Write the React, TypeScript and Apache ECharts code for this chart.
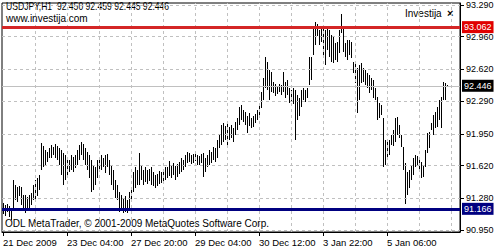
import React, { useEffect, useRef } from 'react';
import * as echarts from 'echarts';

const symbolTitle = 'USDJPY,H1  92.450 92.459 92.445 92.446';
const siteLabel = 'www.investija.com';
const indicatorLabel = 'Investija';
const copyrightLabel = 'ODL MetaTrader, \u00a9 2001-2009 MetaQuotes Software Corp.';

const xTickLabels = ['21 Dec 2009', '23 Dec 04:00', '27 Dec 20:00', '29 Dec 04:00', '30 Dec 12:00', '3 Jan 22:00', '5 Jan 06:00'];
const barsPerTimeLabel = 32;
const barsPerGridLine = 16;
const emptyBarsRight = 6;

const yTickLabels = ['90.950', '91.280', '91.620', '91.950', '92.290', '92.620', '92.960', '93.290'];
const yMin = 90.929;
const yMax = 93.311;

const resistanceLevel = 93.062;
const supportLevel = 91.166;
const bidPrice = 92.446;

const highs = [
  91.23, 91.21, 91.22, 91.20, 91.18, 91.47, 91.42, 91.40, 91.41, 91.40,
  91.31, 91.31, 91.29, 91.31, 91.33, 91.42, 91.47, 91.49, 91.52, 91.85,
  91.82, 91.78, 91.76, 91.80, 91.83, 91.81, 91.84, 91.82, 91.80, 91.78,
  91.75, 91.73, 91.70, 91.68, 91.73, 91.71, 91.73, 91.78, 91.83, 91.87,
  91.84, 91.80, 91.76, 91.73, 91.68, 91.63, 91.60, 91.68, 91.71, 91.73,
  91.70, 91.73, 91.74, 91.68, 91.63, 91.57, 91.47, 91.42, 91.35, 91.31,
  91.28, 91.30, 91.26, 91.35, 91.39, 91.55, 91.60, 91.57, 91.75, 91.63,
  91.57, 91.60, 91.57, 91.58, 91.60, 91.55, 91.52, 91.53, 91.56, 91.55,
  91.58, 91.60, 91.61, 91.67, 91.63, 91.65, 91.62, 91.64, 91.66, 91.70,
  91.68, 91.73, 91.76, 91.75, 91.73, 91.74, 91.76, 91.73, 91.72, 91.74,
  91.75, 91.70, 91.73, 91.78, 91.76, 91.81, 91.80, 91.89, 91.94, 92.04,
  92.06, 92.03, 92.05, 92.02, 92.04, 92.01, 92.07, 92.12, 92.23, 92.25,
  92.20, 92.18, 92.14, 92.17, 92.11, 92.14, 92.16, 92.20, 92.26, 92.39,
  92.53, 92.75, 92.70, 92.61, 92.59, 92.49, 92.47, 92.45, 92.47, 92.46,
  92.59, 92.49, 92.51, 92.43, 92.41, 92.43, 92.41, 92.35, 92.32, 92.41,
  92.43, 92.41, 92.43, 92.75, 92.75, 93.05, 93.11, 93.09, 93.03, 93.05,
  93.08, 93.03, 93.05, 93.03, 92.98, 92.96, 92.90, 92.91, 93.03, 93.20,
  93.05, 92.90, 92.93, 92.93, 92.91, 92.70, 92.69, 92.64, 92.67, 92.69,
  92.64, 92.61, 92.58, 92.56, 92.53, 92.51, 92.43, 92.33, 92.27, 92.25,
  92.11, 91.89, 91.87, 91.89, 91.94, 91.99, 92.11, 92.13, 92.04, 91.94,
  91.81, 91.65, 91.55, 91.57, 91.63, 91.70, 91.73, 91.72, 91.68, 91.66,
  91.63, 91.78, 91.96, 91.97, 92.06, 92.15, 92.18, 92.23, 92.30, 92.33,
  92.49, 92.48, 92.459,
];

const lows = [
  91.12, 91.10, 91.14, 91.08, 91.05, 91.18, 91.26, 91.24, 91.30, 91.21,
  91.16, 91.13, 91.16, 91.18, 91.21, 91.26, 91.26, 91.30, 91.37, 91.57,
  91.61, 91.63, 91.66, 91.70, 91.70, 91.73, 91.70, 91.68, 91.63, 91.52,
  91.42, 91.47, 91.52, 91.55, 91.57, 91.55, 91.59, 91.63, 91.68, 91.73,
  91.68, 91.63, 91.57, 91.49, 91.35, 91.37, 91.42, 91.49, 91.55, 91.57,
  91.60, 91.54, 91.60, 91.52, 91.42, 91.37, 91.28, 91.26, 91.14, 91.16,
  91.13, 91.14, 91.13, 91.18, 91.24, 91.35, 91.39, 91.42, 91.42, 91.47,
  91.42, 91.45, 91.43, 91.46, 91.42, 91.41, 91.39, 91.41, 91.43, 91.44,
  91.46, 91.47, 91.49, 91.51, 91.49, 91.52, 91.47, 91.50, 91.53, 91.55,
  91.57, 91.60, 91.65, 91.66, 91.64, 91.65, 91.67, 91.63, 91.63, 91.65,
  91.50, 91.55, 91.60, 91.63, 91.65, 91.68, 91.66, 91.70, 91.80, 91.83,
  91.87, 91.89, 91.81, 91.89, 91.91, 91.87, 91.94, 91.99, 92.04, 92.09,
  92.07, 92.04, 91.96, 92.03, 92.01, 92.02, 92.06, 92.09, 92.14, 92.22,
  92.30, 92.43, 92.41, 92.30, 92.39, 92.37, 92.34, 92.36, 92.39, 92.35,
  92.39, 92.32, 92.35, 92.27, 92.28, 92.26, 91.89, 92.09, 92.14, 92.23,
  92.30, 92.28, 92.32, 92.46, 92.51, 92.77, 92.87, 92.97, 92.87, 92.91,
  92.77, 92.67, 92.82, 92.75, 92.70, 92.69, 92.72, 92.70, 92.79, 93.00,
  92.80, 92.75, 92.72, 92.77, 92.74, 92.58, 92.48, 92.17, 92.30, 92.48,
  92.49, 92.46, 92.43, 92.38, 92.41, 92.32, 92.30, 92.09, 92.11, 92.15,
  91.61, 91.63, 91.68, 91.73, 91.83, 91.82, 91.87, 91.94, 91.91, 91.81,
  91.57, 91.22, 91.31, 91.39, 91.47, 91.52, 91.61, 91.63, 91.55, 91.49,
  91.50, 91.61, 91.75, 91.80, 91.99, 91.94, 92.01, 92.02, 92.09, 92.01,
  92.30, 92.30, 92.445,
];

const FONT = '"Liberation Sans", Arial, sans-serif';

export default function App() {
  const ref = useRef<HTMLDivElement>(null);

  useEffect(() => {
    if (!ref.current) return;
    const chart = echarts.init(ref.current, null, { renderer: 'svg' });

    const nBars = highs.length;
    const categories = Array.from({ length: nBars + emptyBarsRight }, (_, i) => String(i));
    const barData = highs.map((h, i) => [i, h, lows[i]]);
    const yTickValues = yTickLabels.map(Number);
    const labelInterval = (i: number) => i % barsPerTimeLabel === 0 && i < nBars;

    const gridLineData: any[] = [];
    yTickValues.forEach((v) => gridLineData.push({ yAxis: v }));
    categories.forEach((c, i) => {
      if (i > 0 && i % barsPerGridLine === 0) gridLineData.push({ xAxis: c });
    });

    const levelLabel = (value: number, bg: string) => ({
      show: true,
      position: 'end',
      distance: 2,
      formatter: () => value.toFixed(3),
      color: '#fff',
      backgroundColor: bg,
      padding: [2, 2, 1, 2],
      fontSize: 9,
      fontFamily: FONT,
    });

    chart.setOption({
      animation: false,
      backgroundColor: '#fff',
      grid: {
        left: 2,
        top: 3,
        width: 458,
        height: 229,
        show: true,
        borderColor: '#000',
        borderWidth: 1,
        backgroundColor: '#fff',
      },
      xAxis: {
        type: 'category',
        data: categories,
        boundaryGap: true,
        axisLine: { show: true, lineStyle: { color: '#000', width: 1 } },
        axisTick: { show: true, alignWithLabel: true, interval: labelInterval, length: 4, lineStyle: { color: '#000' } },
        axisLabel: {
          interval: labelInterval,
          formatter: (_v: string, i: number) => xTickLabels[Math.round(i / barsPerTimeLabel)] ?? '',
          align: 'left',
          margin: 5,
          fontSize: 9.5,
          color: '#000',
          fontFamily: FONT,
        },
        splitLine: { show: false },
      },
      yAxis: {
        type: 'value',
        position: 'right',
        min: yMin,
        max: yMax,
        splitLine: { show: false },
        axisLine: { show: true, lineStyle: { color: '#000', width: 1 } },
        axisTick: { show: true, customValues: yTickValues, length: 4, lineStyle: { color: '#000' } },
        axisLabel: {
          customValues: yTickValues,
          formatter: (v: number) => v.toFixed(3),
          color: '#000',
          fontSize: 9,
          margin: 6,
          fontFamily: FONT,
        },
      },
      graphic: [
        { type: 'text', x: 6, y: 2, scaleX: 0.86, style: { text: symbolTitle, font: `10px ${FONT}`, fill: '#000', textVerticalAlign: 'top' } },
        { type: 'text', x: 6, y: 13, style: { text: siteLabel, font: `10px ${FONT}`, fill: '#000', textVerticalAlign: 'top' } },
        { type: 'text', x: 405, y: 8, style: { text: indicatorLabel, font: `10px ${FONT}`, fill: '#000', textVerticalAlign: 'top' } },
        { type: 'text', x: 447, y: 7, style: { text: '\u00d7', font: `bold 11px ${FONT}`, fill: '#000', textVerticalAlign: 'top' } },
        { type: 'text', x: 5, y: 218, style: { text: copyrightLabel, font: `10px ${FONT}`, fill: '#000', textVerticalAlign: 'top' } },
      ],
      series: [
        {
          type: 'line',
          data: [],
          z: 1,
          markLine: {
            silent: true,
            symbol: ['none', 'none'],
            animation: false,
            label: { show: false },
            lineStyle: { color: '#c0c0c0', type: [3, 3], width: 1 },
            data: gridLineData,
          },
        },
        {
          type: 'line',
          data: [],
          z: 2,
          markLine: {
            silent: true,
            symbol: ['none', 'none'],
            animation: false,
            data: [
              { yAxis: bidPrice, lineStyle: { color: '#c0c0c0', type: 'solid', width: 1 }, label: levelLabel(bidPrice, '#000') },
            ],
          },
        },
        {
          type: 'custom',
          z: 3,
          data: barData,
          encode: { x: 0, y: [1, 2] },
          renderItem: (_params: any, api: any) => {
            const hi = api.coord([api.value(0), api.value(1)]);
            const lo = api.coord([api.value(0), api.value(2)]);
            const x = Math.round(hi[0]) + 0.5;
            let y1 = Math.round(hi[1]);
            let y2 = Math.round(lo[1]);
            if (y2 - y1 < 1) y2 = y1 + 1;
            return {
              type: 'line',
              shape: { x1: x, y1, x2: x, y2 },
              style: { stroke: '#000', lineWidth: 1 },
            };
          },
        },
        {
          type: 'line',
          data: [],
          z: 4,
          markLine: {
            silent: true,
            symbol: ['none', 'none'],
            animation: false,
            data: [
              { yAxis: resistanceLevel, lineStyle: { color: '#d42626', type: 'solid', width: 3 }, label: levelLabel(resistanceLevel, '#e00000') },
              { yAxis: supportLevel, lineStyle: { color: '#000080', type: 'solid', width: 3 }, label: levelLabel(supportLevel, '#000080') },
            ],
          },
        },
      ],
    });

    return () => chart.dispose();
  }, []);

  return <div ref={ref} style={{ position: 'absolute', left: 0, top: 0, width: 503, height: 250 }} />;
}
